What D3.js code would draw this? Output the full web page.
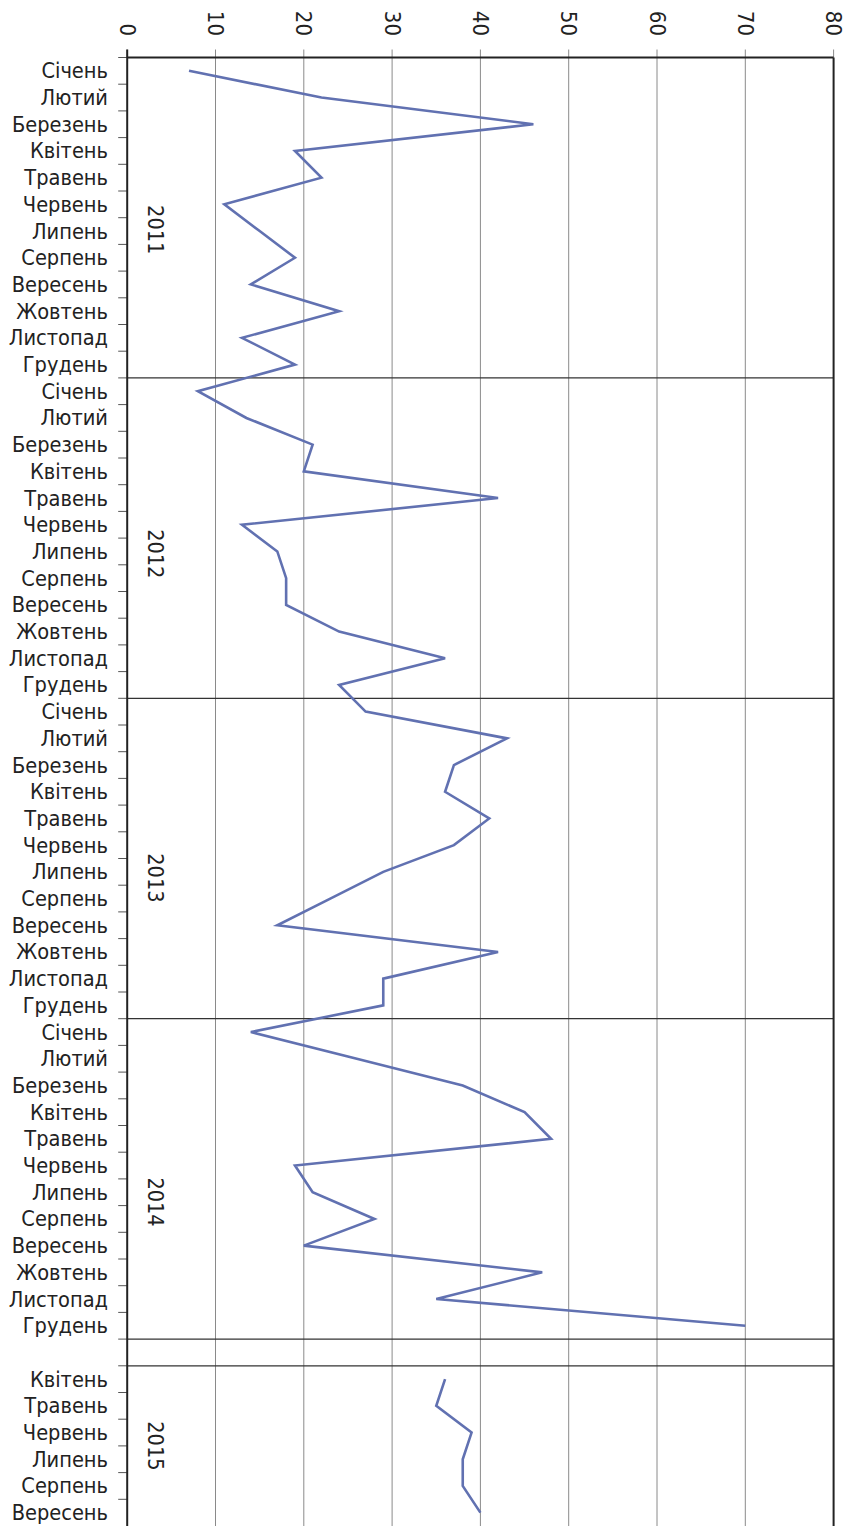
<!DOCTYPE html>
<html><head><meta charset="utf-8">
<script src="https://cdn.jsdelivr.net/npm/d3@7"></script>
<style>body{margin:0;background:#fff;overflow:hidden}</style>
</head><body><svg id="c" width="845" height="1526"></svg>
<script>
const months = ["Січень","Лютий","Березень","Квітень","Травень","Червень","Липень","Серпень","Вересень","Жовтень","Листопад","Грудень"];
const years = ["2011","2012","2013","2014","2015"];
const values2011 = [7,22,46,19,22,11,15,19,14,24,13,19];
const values2012 = [8,13.5,21,20,42,13,17,18,18,24,36,24];
const values2013 = [27,43,37,36,41,37,29,23,17,42,29,29];
const values2014 = [14,26,38,45,48,19,21,28,20,47,35,70];
const months2015 = ["Квітень","Травень","Червень","Липень","Серпень","Вересень"];
const values2015 = [36,35,39,38,38,40];
const xTicks = [0,10,20,30,40,50,60,70,80];

const groups = [
  {year: years[0], cats: months, vals: values2011},
  {year: years[1], cats: months, vals: values2012},
  {year: years[2], cats: months, vals: values2013},
  {year: years[3], cats: months, vals: values2014},
  {year: null, cats: [""], vals: [null]},
  {year: years[4], cats: months2015, vals: values2015}
];
const rows = [];
groups.forEach((g, gi) => g.cats.forEach((c, i) => rows.push({id: gi + "-" + i, label: c, v: g.vals[i], g: gi})));

const svg = d3.select("#c");
const pLeft = 127.2, pRight = 833.6, pTop = 57.5, pBottom = 1526;
const x = d3.scaleLinear().domain([0, 80]).range([pLeft, pRight]);
const y = d3.scaleBand().domain(rows.map(r => r.id)).range([pTop, pBottom]).padding(0);
const step = y.step();

const numFont = "'DejaVu Sans Condensed','DejaVu Sans',sans-serif";
const catFont = "'DejaVu Sans Condensed','DejaVu Sans',sans-serif";

// vertical gridlines with tick extension above
svg.append("g").selectAll("line").data(xTicks.filter(t => t > 0 && t < 80)).join("line")
  .attr("x1", d => x(d)).attr("x2", d => x(d))
  .attr("y1", pTop - 8).attr("y2", pBottom)
  .attr("stroke", "#8a8a8a").attr("stroke-width", 1);
svg.append("g").selectAll("line").data([0, 80]).join("line")
  .attr("x1", d => x(d)).attr("x2", d => x(d))
  .attr("y1", pTop - 8).attr("y2", pTop)
  .attr("stroke", "#8a8a8a").attr("stroke-width", 1);

// top axis labels
svg.append("g").selectAll("text").data(xTicks).join("text")
  .attr("transform", d => `translate(${x(d)},36) rotate(90)`)
  .attr("text-anchor", "end").attr("dominant-baseline", "central")
  .style("font-family", numFont).style("font-size", "22px").attr("fill", "#222")
  .text(d => d);

// left ticks at row boundaries
const bounds = rows.map(r => y(r.id));
svg.append("g").selectAll("line").data(bounds).join("line")
  .attr("x1", pLeft - 9).attr("x2", pLeft)
  .attr("y1", d => d).attr("y2", d => d)
  .attr("stroke", "#555").attr("stroke-width", 1);

// category labels
svg.append("g").selectAll("text").data(rows).join("text")
  .attr("x", 108).attr("y", d => y(d.id) + step / 2)
  .attr("text-anchor", "end").attr("dominant-baseline", "central")
  .style("font-family", catFont).style("font-size", "21.6px").attr("fill", "#222")
  .text(d => d.label);

// group separators
const sepY = [];
groups.forEach((g, gi) => { if (gi > 0) sepY.push(y(gi + "-0")); });
svg.append("g").selectAll("line").data(sepY).join("line")
  .attr("x1", pLeft).attr("x2", pRight).attr("y1", d => d).attr("y2", d => d)
  .attr("stroke", "#333").attr("stroke-width", 1.3);

// border
svg.append("line").attr("x1", pLeft).attr("x2", pRight).attr("y1", pTop).attr("y2", pTop).attr("stroke", "#222").attr("stroke-width", 2);
svg.append("line").attr("x1", pLeft).attr("x2", pLeft).attr("y1", pTop - 8).attr("y2", pBottom).attr("stroke", "#222").attr("stroke-width", 2);
svg.append("line").attr("x1", pRight).attr("x2", pRight).attr("y1", pTop).attr("y2", pBottom).attr("stroke", "#222").attr("stroke-width", 2);

// year labels
groups.forEach((g, gi) => {
  if (!g.year) return;
  const y0 = y(gi + "-0"), y1 = y(gi + "-" + (g.cats.length - 1)) + step;
  const shift = g.cats.length === 12 ? 12 + 3.7 * gi : 0;
  svg.append("text")
    .attr("transform", `translate(155,${(y0 + y1) / 2 + shift}) rotate(90)`)
    .attr("text-anchor", "middle").attr("dominant-baseline", "central")
    .style("font-family", numFont).style("font-size", "21.5px").attr("fill", "#222")
    .text(g.year);
});

// line
const line = d3.line().defined(d => d.v != null)
  .x(d => x(d.v)).y(d => y(d.id) + step / 2);
svg.append("path").datum(rows).attr("d", line)
  .attr("fill", "none").attr("stroke", "#6171b1").attr("stroke-width", 2.6)
  .attr("stroke-linejoin", "miter");
</script></body></html>
